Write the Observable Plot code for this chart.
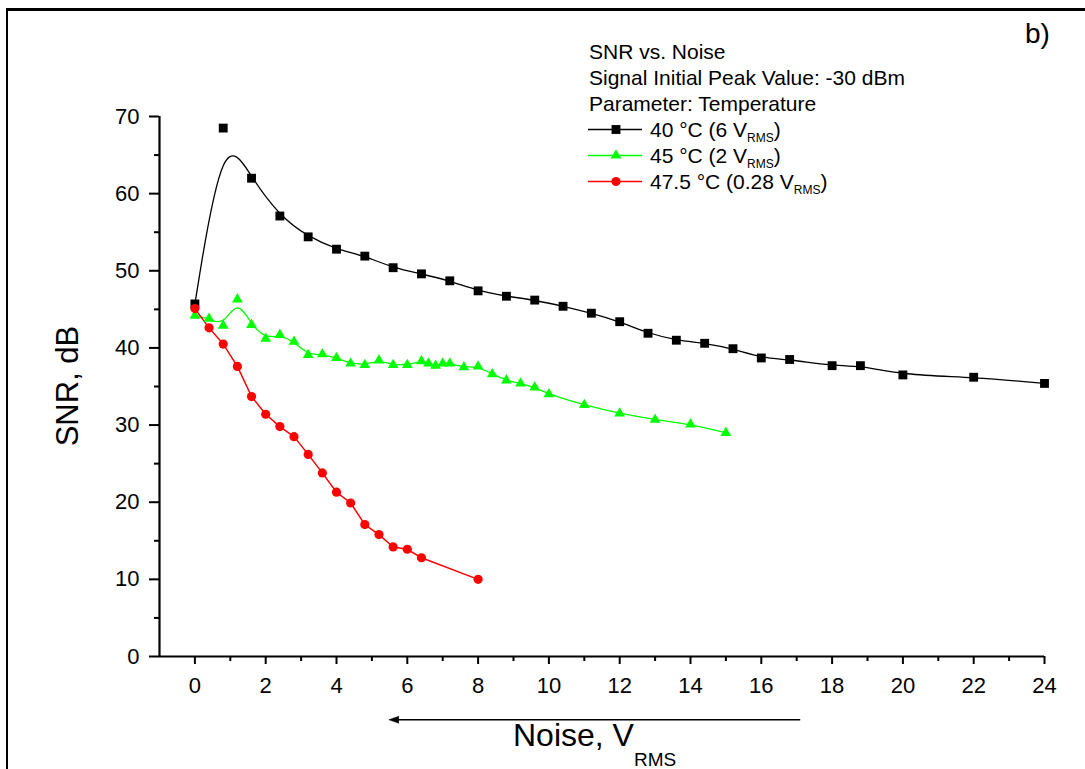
<!DOCTYPE html>
<html>
<head>
<meta charset="utf-8">
<script src="https://cdn.jsdelivr.net/npm/d3@7"></script>
<script src="https://cdn.jsdelivr.net/npm/@observablehq/plot@0.6"></script>
<style>
  html, body { margin: 0; padding: 0; background: #fff; overflow: hidden; }
  #wrap { position: relative; width: 1085px; height: 769px; font-family: "Liberation Sans", Arial, sans-serif; color: #000; }
  #frame { position: absolute; left: 6px; top: 8px; width: 1200px; height: 900px; border-left: 2.5px solid #000; border-top: 3px solid #000; pointer-events: none; }
  .abs { position: absolute; white-space: nowrap; }
  #legend { left: 589px; top: 39px; font-size: 21px; line-height: 26px; }
  #legend .row { height: 26px; display: flex; align-items: flex-start; }
  #legend svg { display: block; margin-left: -1px; margin-right: 6px; }
  #legend sub { font-size: 12px; vertical-align: baseline; position: relative; top: 5px; line-height: 0; }
  #ylab { left: 68px; top: 386px; font-size: 31px; transform: translate(-50%, -50%) rotate(-90deg); }
  #xlab { left: 513px; top: 719px; font-size: 32px; line-height: 32px; }
  #xlab sub { font-size: 19px; vertical-align: baseline; position: relative; top: 20px; line-height: 0; }
  #panel { left: 1025px; top: 20px; font-size: 28px; line-height: 28px; }
</style>
</head>
<body>
<div id="wrap">
  <div id="chart"></div>
  <div id="frame"></div>
  <div id="legend" class="abs"></div>
  <div id="ylab" class="abs">SNR, dB</div>
  <div id="xlab" class="abs">Noise, V<sub>RMS</sub></div>
  <div id="panel" class="abs">b)</div>
</div>
<script>
// ---- Data ----
const noise40 = [0, 0.8, 1.6, 2.4, 3.2, 4.0, 4.8, 5.6, 6.4, 7.2, 8.0, 8.8, 9.6, 10.4, 11.2, 12.0, 12.8, 13.6, 14.4, 15.2, 16.0, 16.8, 18.0, 18.8, 20.0, 22.0, 24.0];
const snr40   = [45.7, 68.5, 62.0, 57.1, 54.4, 52.8, 51.9, 50.4, 49.6, 48.7, 47.4, 46.7, 46.2, 45.4, 44.5, 43.4, 41.9, 41.0, 40.6, 39.9, 38.7, 38.5, 37.7, 37.7, 36.5, 36.2, 35.4];

const noise45 = [0, 0.4, 0.8, 1.2, 1.6, 2.0, 2.4, 2.8, 3.2, 3.6, 4.0, 4.4, 4.8, 5.2, 5.6, 6.0, 6.4, 6.6, 6.8, 7.0, 7.2, 7.6, 8.0, 8.4, 8.8, 9.2, 9.6, 10.0, 11.0, 12.0, 13.0, 14.0, 15.0];
const snr45   = [44.2, 43.8, 42.9, 46.3, 43.0, 41.2, 41.7, 40.8, 39.1, 39.2, 38.7, 38.0, 37.8, 38.4, 37.8, 37.8, 38.3, 38.0, 37.7, 38.0, 38.0, 37.5, 37.6, 36.6, 35.8, 35.4, 34.9, 34.0, 32.6, 31.5, 30.7, 30.1, 29.0];

const noise475 = [0, 0.4, 0.8, 1.2, 1.6, 2.0, 2.4, 2.8, 3.2, 3.6, 4.0, 4.4, 4.8, 5.2, 5.6, 6.0, 6.4, 8.0];
const snr475   = [45.1, 42.6, 40.5, 37.6, 33.7, 31.4, 29.8, 28.5, 26.2, 23.8, 21.3, 19.9, 17.1, 15.8, 14.2, 13.9, 12.8, 10.0];

const seriesNames = ["40 °C (6 V", "45 °C (2 V", "47.5 °C (0.28 V"];
const seriesColors = ["#000000", "#00ff00", "#ff0000"];
const seriesSymbols = ["square", "triangle", "circle"];
const legendHeader = ["SNR vs. Noise", "Signal Initial Peak Value: -30 dBm", "Parameter: Temperature"];

const xMajorTicks = [0, 2, 4, 6, 8, 10, 12, 14, 16, 18, 20, 22, 24];
const xMinorTicks = [1, 3, 5, 7, 9, 11, 13, 15, 17, 19, 21, 23];
const yMajorTicks = [0, 10, 20, 30, 40, 50, 60, 70];
const yMinorTicks = [5, 15, 25, 35, 45, 55, 65];

// annotation arrow (data units): pointing toward decreasing noise
const arrowStart = 17.1, arrowEnd = 5.48, arrowLevel = -8.2;

// ---- Build tables ----
const zip = (xs, ys) => xs.map((x, i) => ({x, y: ys[i]}));
const d40 = zip(noise40, snr40);
const d45 = zip(noise45, snr45);
const d475 = zip(noise475, snr475);

const chart = Plot.plot({
  width: 1085,
  height: 769,
  marginLeft: 159,
  marginRight: 41,
  marginTop: 116,
  marginBottom: 113,
  style: {fontFamily: "'Liberation Sans', Arial, sans-serif", color: "#000", background: "transparent", overflow: "visible"},
  x: {domain: [-1, 24]},
  y: {domain: [0, 70]},
  marks: [
    Plot.axisX({ticks: xMajorTicks, tickSize: 8, tickPadding: 13, fontSize: 22, strokeWidth: 2, label: null}),
    Plot.axisX({ticks: xMinorTicks, tickSize: 5, tickFormat: () => "", strokeWidth: 2, label: null}),
    Plot.axisY({ticks: yMajorTicks, tickSize: 10, tickPadding: 10, fontSize: 22, strokeWidth: 2, label: null}),
    Plot.axisY({ticks: yMinorTicks, tickSize: 5, tickFormat: () => "", strokeWidth: 2, label: null}),
    Plot.ruleY([0], {stroke: "#000", strokeWidth: 2.2}),
    Plot.ruleX([-1], {stroke: "#000", strokeWidth: 2.2}),
    Plot.line(d40, {x: "x", y: "y", curve: "basis", stroke: seriesColors[0], strokeWidth: 1.3}),
    Plot.line(d45, {x: "x", y: "y", curve: "basis", stroke: seriesColors[1], strokeWidth: 1.3}),
    Plot.line(d475, {x: "x", y: "y", curve: "linear", stroke: seriesColors[2], strokeWidth: 1.5}),
    Plot.dot(d40, {x: "x", y: "y", symbol: seriesSymbols[0], fill: seriesColors[0], r: 5}),
    Plot.dot(d45, {x: "x", y: "y", symbol: seriesSymbols[1], fill: seriesColors[1], r: 4}),
    Plot.dot(d475, {x: "x", y: "y", symbol: seriesSymbols[2], fill: seriesColors[2], r: 4.6}),
    Plot.link([{x1: arrowStart, x2: arrowEnd + 0.2, y: arrowLevel}], {x1: "x1", x2: "x2", y1: "y", y2: "y", stroke: "#000", strokeWidth: 1.3}),
    Plot.vector([{x: arrowEnd, y: arrowLevel}], {x: "x", y: "y", length: 10, rotate: -90, r: 3.5, shape: "spike", anchor: "end", fill: "#000", stroke: "#000", strokeWidth: 0.5})
  ]
});
document.getElementById("chart").appendChild(chart);

// ---- Legend ----
const legend = document.getElementById("legend");
legendHeader.forEach(t => {
  const d = document.createElement("div");
  d.className = "row";
  d.textContent = t;
  legend.appendChild(d);
});
const ns = "http://www.w3.org/2000/svg";
seriesNames.forEach((name, i) => {
  const row = document.createElement("div");
  row.className = "row";
  const svg = document.createElementNS(ns, "svg");
  svg.setAttribute("width", 56);
  svg.setAttribute("height", 26);
  const ln = document.createElementNS(ns, "line");
  ln.setAttribute("x1", 0); ln.setAttribute("x2", 54);
  ln.setAttribute("y1", 12.5); ln.setAttribute("y2", 12.5);
  ln.setAttribute("stroke", seriesColors[i]); ln.setAttribute("stroke-width", 1.4);
  svg.appendChild(ln);
  const sym = {square: d3.symbolSquare, triangle: d3.symbolTriangle, circle: d3.symbolCircle}[seriesSymbols[i]];
  const size = {square: 25 * Math.PI, triangle: 16 * Math.PI, circle: 21 * Math.PI}[seriesSymbols[i]];
  const p = document.createElementNS(ns, "path");
  p.setAttribute("d", d3.symbol(sym, size)());
  p.setAttribute("transform", "translate(28,12.5)");
  p.setAttribute("fill", seriesColors[i]);
  svg.appendChild(p);
  row.appendChild(svg);
  const span = document.createElement("span");
  span.innerHTML = name + "<sub>RMS</sub>)";
  row.appendChild(span);
  legend.appendChild(row);
});
</script>
</body>
</html>
